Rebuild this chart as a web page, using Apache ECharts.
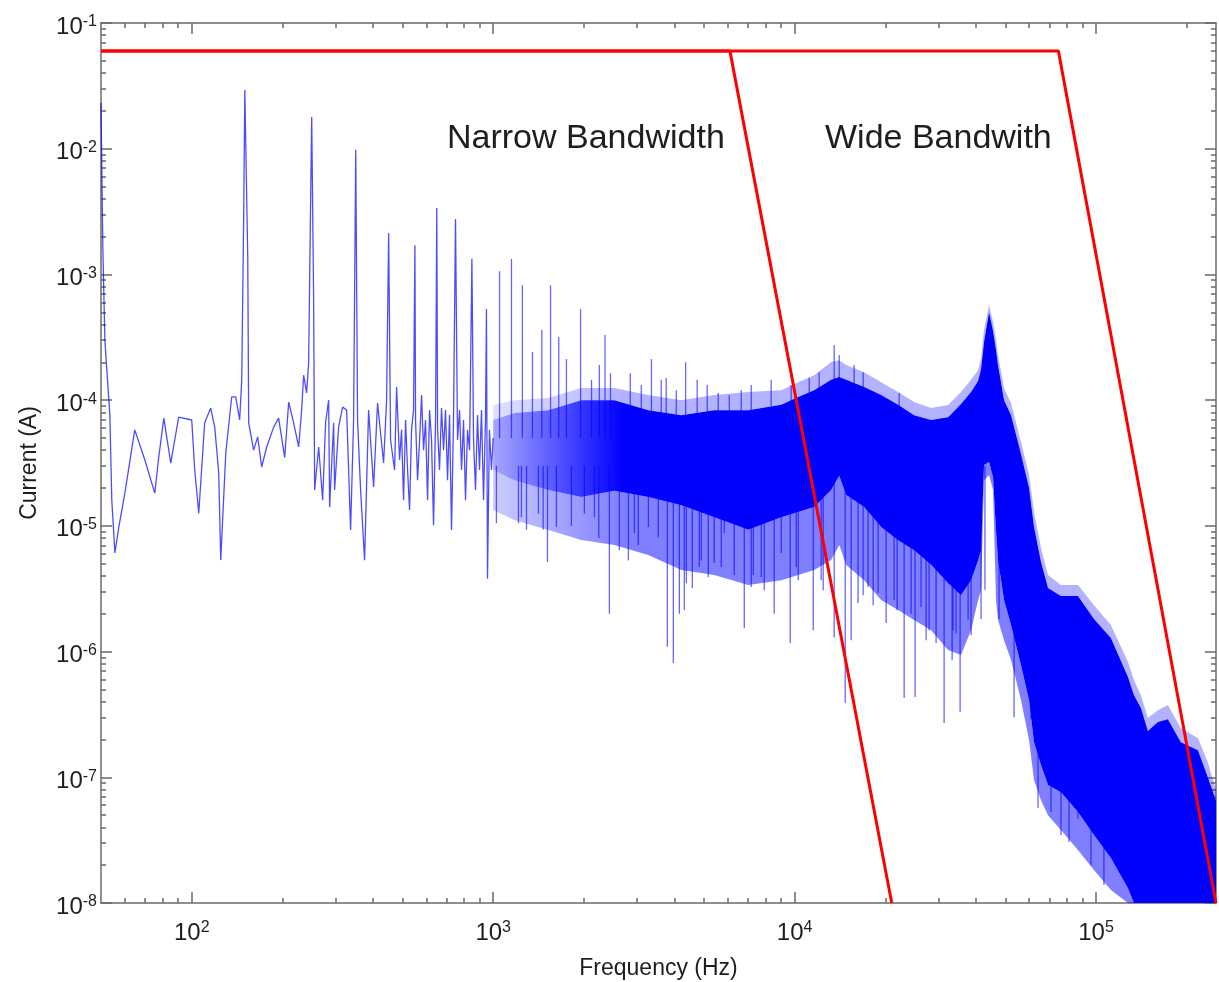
<!DOCTYPE html>
<html><head><meta charset="utf-8">
<script src="https://cdn.jsdelivr.net/npm/echarts@6/dist/echarts.min.js"></script>
<style>html,body{margin:0;padding:0;background:#fff}#c{width:1219px;height:982px}</style>
</head><body><div id="c"></div>
<script>
// ---------- DATA ----------
// Sparse low-frequency part of the spectrum (Hz, A)
const traceFreq = [50,50.7,51.5,53.5,54.3,55.6,57.3,60,64.7,69.9,75.4,77.7,80.8,85.2,90.5,100,102.3,105.5,110.4,115.6,119.2,122.9,124.8,129.7,135.7,139.9,144.2,146.5,148.7,150,153.4,154.5,160.5,165.5,170.6,177.3,187,194.2,203.4,209.7,217.8,226.3,231.5,235.1,240.5,244.2,248,250,253.8,255.7,263.7,271.8,278.1,284.6,286.7,295.6,297.8,307.1,316.6,326.5,336.5,344.3,350,354.9,363.2,374.5,386.1,401.1,413.5,433,443,450,456.7,470.9,478.2,489.2,496.6,504.3,512.2,520,528,536,544.3,550,552.7,561.2,570,578.7,587.5,596.5,605.7,615,624.5,634.1,644,650,654,663.7,674,684.5,695,705.6,716.5,727.5,738.6,750,761.6,773.4,785.3,797.4,809.6,822,835,850,860.6,873.8,887.2,900.8,914.7,928.8,943,950,957.5,972,987,1000];
const traceCurr = [0.0231,1.65e-3,3.0e-4,7.6e-5,1.6e-5,6.1e-6,9.8e-6,1.82e-5,5.8e-5,3.34e-5,1.82e-5,3.5e-5,7.2e-5,3.16e-5,7.34e-5,6.95e-5,2.78e-5,1.26e-5,6.6e-5,8.65e-5,6.1e-5,2.63e-5,5.34e-6,3.8e-5,1.06e-4,1.06e-4,6.95e-5,1.45e-4,2.86e-3,0.0293,1.37e-3,6.6e-5,4.0e-5,5.1e-5,2.94e-5,4.24e-5,6.1e-5,7.2e-5,3.5e-5,9.65e-5,6.6e-5,4.24e-5,8.34e-5,1.58e-4,1.14e-4,1.97e-4,3.9e-3,0.0179,5.9e-4,1.93e-5,4.24e-5,1.6e-5,6.7e-5,1.0e-4,1.41e-5,6.6e-5,1.93e-5,6.1e-5,8.8e-5,8.34e-5,9.26e-6,6.95e-5,9.8e-3,6.95e-5,1.93e-5,5.34e-6,8.34e-5,2.04e-5,9.5e-5,3.16e-5,1.0e-4,2.14e-3,4.82e-5,2.78e-5,1.27e-4,3.34e-5,5.8e-5,1.6e-5,6.95e-5,2.78e-5,1.34e-5,5.8e-5,8.34e-5,1.71e-3,6.95e-5,2.31e-5,4.82e-5,1.1e-4,4.0e-5,6.95e-5,1.6e-5,8.34e-5,4.82e-5,1.01e-5,6.95e-5,3.37e-3,5.8e-5,2.78e-5,8.65e-5,4.0e-5,8.34e-5,2.31e-5,7.6e-5,9.26e-6,6.95e-5,2.76e-3,4.82e-5,8.34e-5,2.78e-5,6.95e-5,1.6e-5,5.8e-5,4.0e-5,1.33e-3,4.82e-5,1.93e-5,7.6e-5,2.78e-5,8.34e-5,1.6e-5,6.95e-5,5.3e-4,3.8e-6,5.8e-5,2.78e-5,5.0e-5];

// Dense part: envelope frequencies, solid core (upper/lower) and lighter fringe (upper/lower)
const bandFreq  = [1000,1180,1525,1960,2525,3270,4210,5410,7020,9030,10280,11610,13220,14060,14830,17010,19370,22040,24910,28370,32290,35650,38490,40610,41550,42500,44160,45530,46580,47300,49520,52240,56370,59940,62270,65680,69280,76490,87100,98420,112000,127600,133600,140900,148600,160400,173100,191100,217700,234900,250000];
const bandUpper = [6.95e-5,7.9e-5,8.3e-5,1.0e-4,1.0e-4,8.3e-5,7.6e-5,8.3e-5,8.3e-5,9.2e-5,1.06e-4,1.2e-4,1.45e-4,1.53e-4,1.45e-4,1.27e-4,1.1e-4,9.2e-5,7.6e-5,6.95e-5,7.3e-5,9.3e-5,1.16e-4,1.42e-4,1.77e-4,2.9e-4,5.0e-4,3.55e-4,2.5e-4,1.9e-4,1.0e-4,7.6e-5,3.73e-5,2.0e-5,9.8e-6,5.15e-6,3.2e-6,2.77e-6,2.77e-6,1.82e-6,1.28e-6,6.27e-7,4.5e-7,3.55e-7,2.33e-7,2.75e-7,2.9e-7,1.9e-7,1.64e-7,1.0e-7,6.5e-8];
const bandLower = [2.8e-5,2.3e-5,1.93e-5,1.7e-5,1.9e-5,1.7e-5,1.46e-5,1.17e-5,9.3e-6,1.17e-5,1.29e-5,1.41e-5,1.93e-5,2.5e-5,1.76e-5,1.41e-5,9.8e-6,7.7e-6,6.4e-6,4.9e-6,3.5e-6,2.8e-6,3.7e-6,5.3e-6,6.4e-6,3.05e-5,3.22e-5,2.44e-5,9.1e-6,5.3e-6,2.57e-6,1.63e-6,7.8e-7,4.1e-7,1.9e-7,1.25e-7,8.7e-8,7.6e-8,5.3e-8,3.47e-8,2.28e-8,1.31e-8,1e-8,1e-8,1e-8,1e-8,1e-8,1e-8,1e-8,1e-8,1e-8];
const fringeUpper = [9.15e-5,1.0e-4,1.04e-4,1.25e-4,1.25e-4,1.1e-4,1.0e-4,1.1e-4,1.16e-4,1.2e-4,1.39e-4,1.58e-4,2.01e-4,2.08e-4,1.9e-4,1.67e-4,1.39e-4,1.16e-4,9.66e-5,8.65e-5,9.15e-5,1.16e-4,1.45e-4,1.74e-4,2.16e-4,3.61e-4,5.71e-4,4.18e-4,3.0e-4,2.28e-4,1.25e-4,9.48e-5,4.64e-5,2.54e-5,1.29e-5,6.66e-6,4.06e-6,3.38e-6,3.38e-6,2.34e-6,1.63e-6,8.25e-7,5.93e-7,4.5e-7,2.96e-7,3.42e-7,3.75e-7,2.46e-7,2.05e-7,1.32e-7,7.9e-8];
const fringeLower = [1.34e-5,1.11e-5,9.26e-6,7.71e-6,7.04e-6,5.86e-6,4.45e-6,4.06e-6,3.38e-6,3.7e-6,4.06e-6,4.45e-6,5.34e-6,7.04e-6,4.88e-6,3.7e-6,2.57e-6,2.14e-6,1.78e-6,1.48e-6,1.03e-6,9.38e-7,1.48e-6,2.57e-6,3.08e-6,2.31e-5,2.54e-5,1.93e-5,2.57e-6,1.78e-6,1.23e-6,8.56e-7,4.11e-7,1.98e-7,9.5e-8,6.58e-8,5.0e-8,3.8e-8,2.64e-8,1.83e-8,1.27e-8,1e-8,1e-8,1e-8,1e-8,1e-8,1e-8,1e-8,1e-8,1e-8,1e-8];

// Isolated spikes rising out of / dropping below the dense band: frequency, start, tip
const spikeFreq = [1050,1150,1250,1350,1450,1550,1650,1750,1950,2120,2250,2350,2450,2850,3100,3350,3610,3750,4050,4350,4750,5130,5580,6070,6650,7180,8360,9740,11180,12060,13530,14060,15760,16880,22220,
  1025,1213,1241,1290,1413,1465,1514,1621,1818,2007,2167,2240,2429,2621,2809,2941,3031,3273,3531,3782,3960,4146,4306,4373,4578,4829,4902,5171,5410,5711,5845,6305,6808,7180,7293,7750,7930,8557,9030,9670,10120,10280,11530,12250,12440,13530,14720,15400,16240,16880,17530,18220,18930,20120,21380,21880,23090,24350,25100,26280,27310,27930,29470,31330,33310,33560,34320,35400,37630,38490,41550,42800,47670,53460,57250,60850,64200,67200,70900,76490,81350,87100,96200,106200];
const spikeBase = [5e-5,5e-5,5e-5,5e-5,5e-5,5e-5,5e-5,5e-5,5e-5,5e-5,5e-5,5e-5,5e-5,5e-5,5e-5,5e-5,5e-5,5e-5,5e-5,5e-5,5e-5,5e-5,5e-5,5e-5,5e-5,5e-5,5e-5,6e-5,6e-5,6e-5,6e-5,6e-5,6e-5,6e-5,5e-5,
  3e-5,3e-5,3e-5,3e-5,3e-5,3e-5,3e-5,3e-5,3e-5,3e-5,3e-5,3e-5,3e-5,3e-5,3e-5,3e-5,3e-5,3e-5,3e-5,3e-5,3e-5,3e-5,3e-5,3e-5,3e-5,3e-5,3e-5,3e-5,3e-5,3e-5,3e-5,3e-5,3e-5,3e-5,3e-5,3e-5,3e-5,3e-5,3e-5,3e-5,3e-5,3e-5,3e-5,3e-5,3e-5,3e-5,3e-5,3e-5,3e-5,3e-5,2e-5,2e-5,2e-5,2e-5,2e-5,2e-5,2e-5,2e-5,2e-5,2e-5,2e-5,2e-5,1e-5,1e-5,1e-5,1e-5,1e-5,1e-5,1e-5,1e-5,1e-5,3e-5,1e-5,5e-6,3e-6,2e-6,1e-6,5e-7,3e-7,3e-7,3e-7,2e-7,2e-7,1e-7];
const spikeTip  = [1.06e-3,1.33e-3,8.2e-4,2.41e-4,3.61e-4,8.2e-4,3.18e-4,2.12e-4,5.3e-4,1.45e-4,1.9e-4,3.3e-4,1.64e-4,1.64e-4,1.32e-4,2.12e-4,1.45e-4,1.5e-4,1.2e-4,2.0e-4,1.45e-4,1.32e-4,1.14e-4,1.1e-4,1.2e-4,1.32e-4,1.45e-4,1.32e-4,1.5e-4,1.67e-4,2.74e-4,2.29e-4,1.9e-4,1.67e-4,1.14e-4,
  1.05e-5,1.05e-5,1.17e-5,9.3e-6,1.25e-5,9.3e-6,5.15e-6,9.8e-6,1.0e-5,1.25e-5,1.17e-5,8.0e-6,2.0e-6,6.4e-6,5.3e-6,8.8e-6,7.0e-6,9.8e-6,8.1e-6,1.09e-6,8.1e-7,2.0e-6,2.14e-6,3.5e-6,3.2e-6,4.7e-6,5.3e-6,3.9e-6,5.06e-6,4.7e-6,8.77e-6,4.06e-6,1.54e-6,3.26e-6,4.06e-6,3.92e-6,3.08e-6,2.0e-6,6.08e-6,1.17e-6,4.7e-6,3.7e-6,1.48e-6,3.7e-6,3.08e-6,1.3e-6,3.9e-7,1.23e-6,2.43e-6,2.81e-6,3.26e-6,2.34e-6,2.92e-6,1.69e-6,2.57e-6,2.14e-6,4.27e-7,2.0e-6,4.35e-7,2.26e-6,1.23e-6,1.48e-6,1.17e-6,2.7e-7,8.55e-7,1.48e-6,1.4e-6,3.3e-7,1.78e-6,1.35e-6,1.82e-6,3.1e-6,1.82e-6,3.0e-7,7.8e-7,2.9e-7,5.7e-8,1.32e-7,5.3e-8,3.47e-8,3.05e-8,4.65e-8,2.0e-8,1.39e-8];

// Filter bandwidth limit lines
const narrowFreq = [50, 6100, 21000];
const narrowCurr = [0.06, 0.06, 1e-8];
const wideFreq   = [50, 75000, 250000];
const wideCurr   = [0.06, 0.06, 1e-8];

// Axes and ticks
const xMin = 50, xMax = 250000, yMin = 1e-8, yMax = 1e-1;
const xMajorTicks = [100, 1000, 10000, 100000];
const yMajorTicks = [1e-8, 1e-7, 1e-6, 1e-5, 1e-4, 1e-3, 1e-2, 1e-1];
const minorMantissas = [2, 3, 4, 5, 6, 7, 8, 9];
const xMinorTicks = [60, 70, 80, 90];
[100, 1000, 10000, 100000].forEach(d => minorMantissas.forEach(m => { if (m * d <= xMax) xMinorTicks.push(m * d); }));
const yMinorTicks = [];
[1e-8, 1e-7, 1e-6, 1e-5, 1e-4, 1e-3, 1e-2].forEach(d => minorMantissas.forEach(m => yMinorTicks.push(m * d)));

const xTitle = 'Frequency (Hz)';
const yTitle = 'Current (A)';
const annotationText = ['Narrow Bandwidth', 'Wide Bandwith'];

// ---------- CHART ----------
const FONT = '"Liberation Sans", Arial, Helvetica, sans-serif';
const AX = '#6a6a6a';
const TXT = '#1e1e1e';
const chart = echarts.init(document.getElementById('c'), null, {renderer: 'canvas'});

function powLabel(v) {
  const e = Math.round(Math.log10(v));
  return '{b|10}{e|' + e + '}';
}
const rich = {
  b: {fontSize: 24, fontFamily: FONT, color: TXT, verticalAlign: 'bottom', lineHeight: 26},
  e: {fontSize: 16, fontFamily: FONT, color: TXT, verticalAlign: 'bottom', padding: [0, 0, 9, 0], lineHeight: 16}
};

function xAx(pos, ticks, len, line, labels) {
  return {
    type: 'log', logBase: 10, min: xMin, max: xMax, position: pos, gridIndex: 0,
    axisLine: {show: line, onZero: false, lineStyle: {color: AX, width: 1.5}},
    axisTick: {show: true, inside: true, length: len, customValues: ticks, lineStyle: {color: AX, width: 1.5}},
    axisLabel: labels ? {show: true, customValues: xMajorTicks, formatter: powLabel, rich: rich, margin: 16} : {show: false},
    splitLine: {show: false}, minorTick: {show: false}, minorSplitLine: {show: false},
    name: labels ? xTitle : '', nameLocation: 'middle', nameGap: 54,
    nameTextStyle: {fontSize: 23, fontFamily: FONT, color: TXT}
  };
}
function yAx(pos, ticks, len, line, labels) {
  return {
    type: 'log', logBase: 10, min: yMin, max: yMax, position: pos, gridIndex: 0,
    axisLine: {show: line, onZero: false, lineStyle: {color: AX, width: 1.5}},
    axisTick: {show: true, inside: true, length: len, customValues: ticks, lineStyle: {color: AX, width: 1.5}},
    axisLabel: labels ? {show: true, customValues: yMajorTicks, formatter: powLabel, rich: rich, margin: 4, padding: [6, 0, 0, 0]} : {show: false},
    splitLine: {show: false}, minorTick: {show: false}, minorSplitLine: {show: false},
    name: labels ? yTitle : '', nameLocation: 'middle', nameGap: 60, nameRotate: 90,
    nameTextStyle: {fontSize: 23, fontFamily: FONT, color: TXT}
  };
}

// Polygon between two envelopes, drawn through the axes' own scales
function envelopeSeries(name, upper, lower, z, alphaLeft, alphaRight) {
  return {
    type: 'custom', name: name, silent: true, z: z,
    data: [[bandFreq[0], upper[0]]],
    renderItem: function (params, api) {
      const pts = [];
      for (let i = 0; i < bandFreq.length; i++) pts.push(api.coord([bandFreq[i], upper[i]]));
      for (let i = bandFreq.length - 1; i >= 0; i--) pts.push(api.coord([bandFreq[i], lower[i]]));
      const x0 = api.coord([1000, 1e-4])[0], x1 = api.coord([2700, 1e-4])[0];
      return {
        type: 'polygon', shape: {points: pts},
        style: {fill: new echarts.graphic.LinearGradient(x0, 0, x1, 0, [
          {offset: 0, color: 'rgba(0,0,255,' + alphaLeft + ')'},
          {offset: 1, color: 'rgba(0,0,255,' + alphaRight + ')'}
        ], true)}
      };
    }
  };
}

const option = {
  animation: false,
  backgroundColor: '#ffffff',
  grid: {left: 101, right: 3, top: 23, bottom: 79, containLabel: false, outerBoundsMode: 'none'},
  xAxis: [
    xAx('bottom', xMajorTicks, 11, true, true),
    xAx('bottom', xMinorTicks, 5, false, false),
    xAx('top', xMajorTicks, 11, true, false),
    xAx('top', xMinorTicks, 5, false, false)
  ],
  yAxis: [
    yAx('left', yMajorTicks, 11, true, true),
    yAx('left', yMinorTicks, 5, false, false),
    yAx('right', yMajorTicks, 11, true, false),
    yAx('right', yMinorTicks, 5, false, false)
  ],
  graphic: [
    {type: 'text', left: 447, top: 122, z: 100, style: {text: annotationText[0], font: '34px ' + FONT, fill: TXT}},
    {type: 'text', left: 825, top: 122, z: 100, style: {text: annotationText[1], font: '34px ' + FONT, fill: TXT}}
  ],
  series: [
    envelopeSeries('fringeTop', fringeUpper, bandUpper, 1, 0.12, 0.3),
    envelopeSeries('fringeBottom', bandLower, fringeLower, 1, 0.2, 0.5),
    envelopeSeries('band', bandUpper, bandLower, 2, 0.35, 1),
    {
      type: 'custom', name: 'spikes', silent: true, z: 3,
      data: spikeFreq.map((f, i) => [f, spikeBase[i], spikeTip[i]]),
      encode: {x: 0, y: [1, 2]},
      renderItem: function (params, api) {
        const a = api.coord([api.value(0), api.value(1)]);
        const b = api.coord([api.value(0), api.value(2)]);
        return {type: 'line', shape: {x1: a[0], y1: a[1], x2: b[0], y2: b[1]},
          style: {stroke: 'rgba(0,0,255,0.6)', lineWidth: 1.3}};
      }
    },
    {
      type: 'line', name: 'spectrum', silent: true, z: 4,
      data: traceFreq.map((f, i) => [f, traceCurr[i]]),
      symbol: 'none', lineStyle: {color: 'rgba(0,0,255,0.7)', width: 1.3}
    },
    {
      type: 'line', name: 'narrow', silent: true, z: 6,
      data: narrowFreq.map((f, i) => [f, narrowCurr[i]]),
      symbol: 'none', lineStyle: {color: '#ff0000', width: 3}
    },
    {
      type: 'line', name: 'wide', silent: true, z: 6,
      data: wideFreq.map((f, i) => [f, wideCurr[i]]),
      symbol: 'none', lineStyle: {color: '#ff0000', width: 3}
    }
  ]
};
chart.setOption(option);
</script>
</body></html>
